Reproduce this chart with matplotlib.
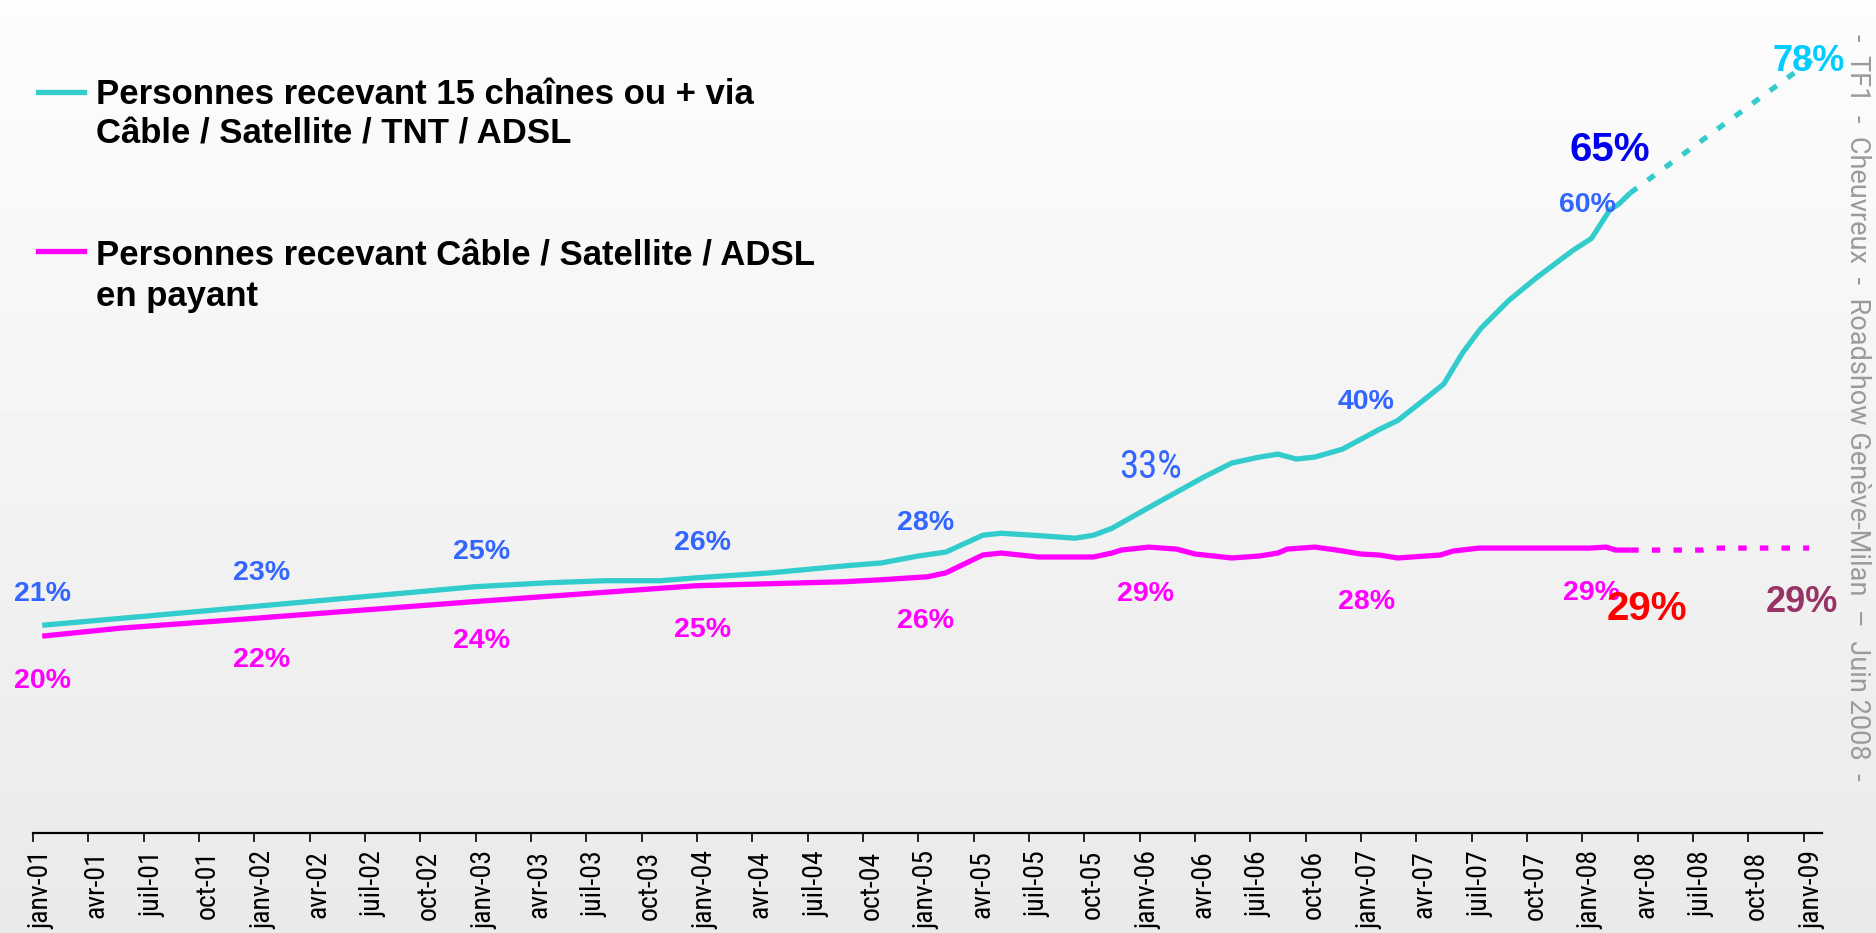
import matplotlib
matplotlib.use('Agg')
import matplotlib.pyplot as plt
import matplotlib.transforms as mtransforms
from matplotlib.lines import Line2D
from matplotlib import font_manager as fm
import numpy as np

# months counted from janv-01 (= 0) up to janv-09 (= 96)
cyan_months = [0.5, 6, 12, 18, 24, 28, 31, 34, 36, 40, 44, 46, 48, 49.5, 51.5, 52.5,
               55, 56.5, 57.5, 58.5, 60.5, 63.5, 65, 66.5, 67.5, 68.5, 69.5, 71, 73,
               74, 75.5, 76.5, 77.5, 78.5, 80, 81.5, 83.5, 84.5, 85.5, 86, 86.6]
cyan_vals = [21.0, 21.9, 22.9, 23.9, 24.9, 25.3, 25.5, 25.5, 25.8, 26.3, 27.0, 27.3, 28.0, 28.4, 30.1, 30.3,
             30.0, 29.8, 30.1, 30.8, 32.9, 36.0, 37.4, 38.0, 38.3, 37.8, 38.0, 38.8, 40.8,
             41.7, 43.9, 45.4, 48.5, 51.0, 53.8, 56.1, 58.9, 60.1, 63.0, 63.6, 64.7]
cyan_fc_months = [86.6, 96.5]
cyan_fc_vals = [64.7, 78.2]

mag_months = [0.5, 4.7, 12, 24, 36, 44, 46, 48.5, 49.5, 51.5, 52.5, 54.5, 57.5, 58.5, 59,
              60.5, 62, 63, 65, 66.5, 67.5, 68, 69.5, 70.7, 72, 73, 74, 76.3, 77, 78.4,
              84.4, 85.3, 85.8, 86.6]
mag_vals = [19.9, 20.7, 21.7, 23.4, 25.0, 25.4, 25.6, 25.9, 26.3, 28.1, 28.3, 27.9, 27.9, 28.3, 28.6,
            28.9, 28.7, 28.2, 27.8, 28.0, 28.3, 28.7, 28.9, 28.6, 28.2, 28.1, 27.8, 28.1, 28.5, 28.8,
            28.8, 28.9, 28.6, 28.6]
mag_fc_months = [86.6, 90.5, 91.2, 96.3]
mag_fc_vals = [28.6, 28.6, 28.8, 28.8]

tick_labels = ['janv-01', 'avr-01', 'juil-01', 'oct-01', 'janv-02', 'avr-02', 'juil-02', 'oct-02',
               'janv-03', 'avr-03', 'juil-03', 'oct-03', 'janv-04', 'avr-04', 'juil-04', 'oct-04',
               'janv-05', 'avr-05', 'juil-05', 'oct-05', 'janv-06', 'avr-06', 'juil-06', 'oct-06',
               'janv-07', 'avr-07', 'juil-07', 'oct-07', 'janv-08', 'avr-08', 'juil-08', 'oct-08',
               'janv-09']

label_texts = ['21%', '20%', '23%', '22%', '25%', '24%', '26%', '25%', '28%', '26%',
               '33%', '29%', '40%', '28%', '60%', '29%', '65%', '29%', '78%', '29%']

legend_texts = ['Personnes recevant 15 chaînes ou + via\nCâble / Satellite / TNT / ADSL',
                'Personnes recevant Câble / Satellite / ADSL\nen payant']
side_text = '-  TF1  -  Cheuvreux  -  Roadshow Genève-Milan  –  Juin 2008  -'

CYAN = '#33CCCC'
MAGENTA = '#FF00FF'
BLUE = '#3366FF'

installed = {f.name for f in fm.fontManager.ttflist}
narrow = next((n for n in ['Liberation Sans Narrow', 'Roboto Condensed', 'DejaVu Sans Condensed']
               if n in installed), 'Liberation Sans')

# where each value label sits (month, value), its colour, size and font
label_pos = [(0.5, 24.2), (0.5, 15.4), (12.4, 26.3), (12.4, 17.5), (24.3, 28.4), (24.3, 19.4),
             (36.3, 29.3), (36.3, 20.5), (48.4, 31.3), (48.4, 21.4), (60.6, 36.9), (60.3, 24.2),
             (72.3, 43.6), (72.3, 23.4), (84.3, 63.5), (84.5, 24.3), (85.5, 69.0), (87.5, 22.6),
             (96.3, 78.0), (95.9, 23.3)]
label_colors = [BLUE, MAGENTA, BLUE, MAGENTA, BLUE, MAGENTA, BLUE, MAGENTA, BLUE, MAGENTA,
                BLUE, MAGENTA, BLUE, MAGENTA, BLUE, MAGENTA, '#0000EE', '#FF0000', '#00CCFF', '#993366']
label_sizes = [20.5] * 10 + [28, 20.5, 20.5, 20.5, 20.5, 20.5, 29, 29, 26, 26]

W, H = 1876, 933
fig = plt.figure(figsize=(W / 100, H / 100), dpi=100)

# soft vertical gradient background
bg = fig.add_axes([0, 0, 1, 1], zorder=-1)
grad = np.linspace(0.99, 0.915, 256).reshape(-1, 1)
bg.imshow(grad, cmap='gray', vmin=0, vmax=1, aspect='auto', extent=[0, 1, 0, 1])
bg.axis('off')

ax = fig.add_axes([33 / W, (H - 833) / H, 1789 / W, 831 / H])
ax.set_facecolor('none')
ax.set_xlim(0, 97)
ax.set_ylim(0, 84)

ax.plot(cyan_months, cyan_vals, color=CYAN, lw=3.8, solid_capstyle='butt')
ax.plot(cyan_fc_months, cyan_fc_vals, color=CYAN, lw=3.8, ls=(0, (1.6, 2.5)))
ax.plot(mag_months, mag_vals, color=MAGENTA, lw=3.8, solid_capstyle='butt')
ax.plot(mag_fc_months, mag_fc_vals, color=MAGENTA, lw=3.8, ls=(0, (1.6, 2.5)))

for i, txt in enumerate(label_texts):
    x, y = label_pos[i]
    if i == 10:
        ax.text(x, y, txt, color=label_colors[i], fontsize=label_sizes[i], family=narrow,
                ha='center', va='center')
    else:
        ax.text(x, y, txt, color=label_colors[i], fontsize=label_sizes[i], family='Liberation Sans',
                fontweight='bold', ha='center', va='center')

for s in ['top', 'right', 'left']:
    ax.spines[s].set_visible(False)
ax.spines['bottom'].set_linewidth(1.6)
ax.set_yticks([])
ax.set_xticks(range(0, 97, 3))
ax.set_xticklabels(tick_labels, rotation=90, family=narrow, fontsize=20, va='top')
ax.tick_params(axis='x', direction='out', length=6.5, width=1.2, pad=6)
offset = mtransforms.ScaledTranslation(8 / 100, 0, fig.dpi_scale_trans)
for lab in ax.get_xticklabels():
    lab.set_transform(lab.get_transform() + offset)

# legend drawn by hand
for (txt, col, ly, tb) in [(legend_texts[0], CYAN, 92, 104), (legend_texts[1], MAGENTA, 251, 266)]:
    fig.add_artist(Line2D([38 / W, 84 / W], [1 - ly / H, 1 - ly / H], color=col, lw=3.8))
    fig.text(96 / W, 1 - tb / H, txt.split('\n')[0], fontsize=25, fontweight='bold',
             family='Liberation Sans', va='baseline', ha='left')
    fig.text(96 / W, 1 - (tb + 40) / H, txt.split('\n')[1], fontsize=25, fontweight='bold',
             family='Liberation Sans', va='baseline', ha='left')

fig.text(1857 / W, 1 - 34 / H, side_text, rotation=-90, va='top', ha='center',
         color='#9a9a9a', fontsize=19.5, family='Roboto')

fig.savefig('out.png', dpi=100)
